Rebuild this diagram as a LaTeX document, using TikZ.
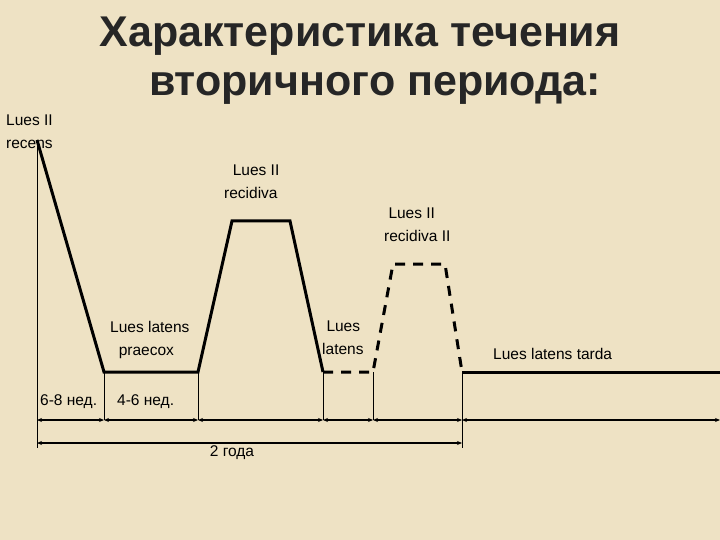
\documentclass[tikz,border=0pt]{standalone}
\usepackage{fontspec}
\setmainfont{Liberation Sans}
\usetikzlibrary{arrows.meta}
\definecolor{bg}{HTML}{EEE2C4}
\begin{document}
\begin{tikzpicture}[x=1pt,y=-1pt,
  curve/.style={line width=3pt,line join=miter},
  dcurve/.style={line width=3pt,dash pattern=on 10pt off 8pt},
  tick/.style={line width=0.7pt},
  dim/.style={line width=1.6pt,{Stealth[length=5pt,width=4pt]}-{Stealth[length=5pt,width=4pt]}},
  lbl/.style={font=\fontsize{15.5}{17}\selectfont,align=left,inner sep=0pt}]
\fill[bg] (0,0) rectangle (720,540);
\useasboundingbox (0,0) rectangle (720,540);
\node[font=\fontsize{43}{52}\bfseries\selectfont,text=black!85] (title1) at (360,36) {Характеристика течения};
\node[font=\fontsize{43}{52}\bfseries\selectfont,text=black!85] (title2) at (375,88) {вторичного периода:};
\coordinate (a) at (37,140);
\coordinate (b) at (104,372);
\coordinate (c) at (198,372);
\coordinate (d) at (232,221);
\coordinate (e) at (290,221);
\coordinate (f) at (323,372);
\coordinate (g) at (373,372);
\coordinate (h) at (393,264);
\coordinate (i) at (445,264);
\coordinate (j) at (462,372);
\coordinate (k) at (720,372);
\draw[curve] (a) -- (b) -- (c) -- (d) -- (e) -- (f);
\draw[dcurve] (f) -- (g) -- (h) -- (i) -- (j);
\draw[curve] (j) -- (k);
% ticks
\coordinate (t0) at (37,448);
\coordinate (t1) at (104,420);
\coordinate (t2) at (198,420);
\coordinate (t3) at (323,420);
\coordinate (t4) at (373,420);
\coordinate (t5) at (462,448);
\coordinate (t6) at (720,420);
\draw[tick] (a) -- (t0);
\draw[tick] (b) -- (t1);
\draw[tick] (c) -- (t2);
\draw[tick] (f) -- (t3);
\draw[tick] (g) -- (t4);
\draw[tick] (j) -- (t5);
\coordinate (u0) at (37,420);
\coordinate (u5) at (462,420);
\draw[dim] (u0) -- (t1);
\draw[dim] (t1) -- (t2);
\draw[dim] (t2) -- (t3);
\draw[dim] (t3) -- (t4);
\draw[dim] (t4) -- (u5);
\draw[dim] (u5) -- (t6);
\coordinate (v0) at (37,443);
\coordinate (v5) at (462,443);
\draw[dim] (v0) -- (v5);
% labels
\node[lbl,anchor=north west] (l1) at (6,115) {Lues II\\[6pt]recens};
\node[lbl,anchor=north west] (l2) at (224,165) {\ \ Lues II\\[6pt]recidiva};
\node[lbl,anchor=north west] (l3) at (384,208) {\ Lues II\\[6pt]recidiva II};
\node[lbl,anchor=north west] (l4) at (110,321) {Lues latens\\[6pt]\ \ praecox};
\node[lbl,anchor=north west] (l5) at (322,321) {\ Lues\\[6pt]latens};
\node[lbl,anchor=west] (l6) at (493,354) {Lues latens tarda};
\node[lbl,anchor=west] (l7) at (40,402) {6-8 нед.};
\node[lbl,anchor=west] (l8) at (117,402) {4-6 нед.};
\node[lbl,anchor=center] (l9) at (232,453) {2 года};
\end{tikzpicture}
\end{document}
